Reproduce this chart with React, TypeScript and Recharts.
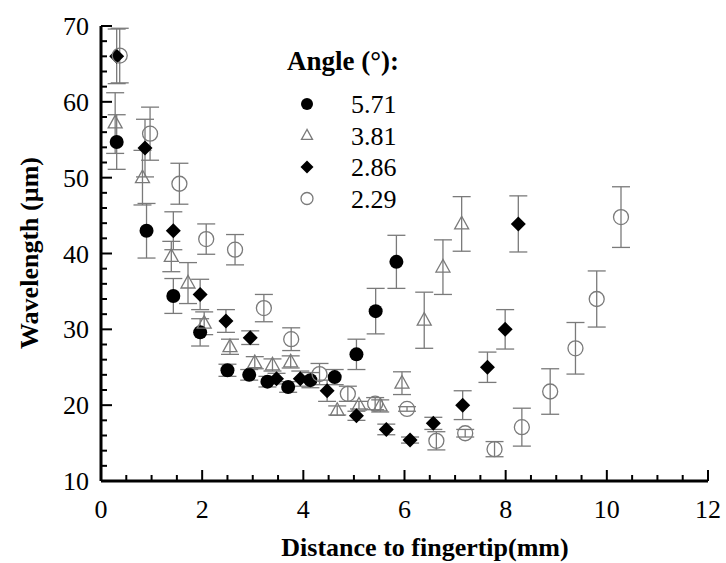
import React from 'react';
import { ScatterChart, Scatter, XAxis, YAxis, ErrorBar } from 'recharts';

// distance to fingertip (mm), wavelength (um), error (um)
const x571 = [0.31, 0.9, 1.43, 1.96, 2.5, 2.93, 3.29, 3.7, 4.14, 4.62, 5.05, 5.43, 5.84];
const y571 = [54.7, 43.0, 34.4, 29.6, 24.6, 24.0, 23.1, 22.4, 23.3, 23.7, 26.7, 32.4, 38.9];
const e571 = [3.6, 3.6, 2.3, 1.8, 0.8, 0.7, 0.7, 0.7, 1.0, 1.0, 2.0, 3.0, 3.5];

const x381 = [0.28, 0.82, 1.39, 1.72, 2.04, 2.55, 3.04, 3.39, 3.75, 4.67, 5.1, 5.52, 5.95, 6.39, 6.76, 7.13];
const y381 = [57.2, 50.0, 39.6, 36.1, 30.8, 27.7, 25.6, 25.3, 25.7, 19.3, 20.0, 19.9, 22.9, 31.2, 38.2, 43.9];
const e381 = [4.0, 3.6, 2.0, 2.7, 1.5, 1.0, 0.8, 0.8, 0.8, 0.6, 0.5, 0.8, 1.5, 3.7, 3.6, 3.6];

const x286 = [0.31, 0.87, 1.43, 1.96, 2.47, 2.95, 3.47, 3.94, 4.47, 5.05, 5.64, 6.11, 6.57, 7.15, 7.64, 7.99, 8.25];
const y286 = [66.0, 53.9, 43.0, 34.6, 31.1, 28.9, 23.5, 23.5, 21.9, 18.6, 16.8, 15.4, 17.6, 20.0, 25.0, 30.0, 43.9];
const e286 = [3.6, 3.8, 2.5, 2.0, 1.5, 0.9, 0.7, 1.0, 1.4, 0.6, 0.7, 0.4, 0.8, 1.9, 2.0, 2.6, 3.7];

const x229 = [0.37, 0.97, 1.55, 2.08, 2.65, 3.22, 3.76, 4.32, 4.88, 5.42, 6.05, 6.63, 7.2, 7.78, 8.32, 8.88, 9.38, 9.8, 10.28];
const y229 = [66.1, 55.8, 49.2, 41.9, 40.5, 32.8, 28.7, 24.1, 21.5, 20.2, 19.5, 15.3, 16.3, 14.2, 17.1, 21.8, 27.5, 34.0, 44.8];
const e229 = [3.6, 3.5, 2.7, 2.0, 2.0, 1.8, 1.5, 1.4, 1.0, 0.8, 0.3, 1.2, 0.5, 1.0, 2.5, 3.0, 3.4, 3.7, 4.0];

const xTicks = [0, 0.5, 1, 1.5, 2, 2.5, 3, 3.5, 4, 4.5, 5, 5.5, 6, 6.5, 7, 7.5, 8, 8.5, 9, 9.5, 10, 10.5, 11, 11.5, 12];
const yTicks = [10, 12, 14, 16, 18, 20, 22, 24, 26, 28, 30, 32, 34, 36, 38, 40, 42, 44, 46, 48, 50, 52, 54, 56, 58, 60, 62, 64, 66, 68, 70];
const angles = ['5.71', '3.81', '2.86', '2.29'];

const FONT = "'Liberation Serif', 'Times New Roman', Times, serif";
const GREY = '#7a7a7a';
const txt = { fontFamily: FONT };

const toRows = (xs: number[], ys: number[], es: number[]) =>
  xs.map((x, i) => ({ x, y: ys[i], err: es[i] }));

const isMajorX = (v: number) => Math.abs(v / 2 - Math.round(v / 2)) < 1e-6;
const isMajorY = (v: number) => v % 10 === 0;

const BottomTick = (props: any) => {
  const { x, y, payload } = props;
  const major = isMajorX(payload.value);
  return (
    <g>
      <line x1={x} y1={y} x2={x} y2={y - (major ? 11 : 6)} stroke="#000" strokeWidth={2} />
      {major && (
        <text x={x} y={y + 37} textAnchor="middle" style={txt} fontSize={26} fill="#000">
          {payload.value}
        </text>
      )}
    </g>
  );
};

const TopTick = (props: any) => {
  const { x, y, payload } = props;
  const major = isMajorX(payload.value);
  return <line x1={x} y1={y} x2={x} y2={y + (major ? 11 : 6)} stroke="#000" strokeWidth={2} />;
};

const LeftTick = (props: any) => {
  const { x, y, payload } = props;
  const major = isMajorY(payload.value);
  return (
    <g>
      <line x1={x} y1={y} x2={x + (major ? 11 : 6)} y2={y} stroke="#000" strokeWidth={2} />
      {major && (
        <text x={x - 12} y={y} dy="0.35em" textAnchor="end" style={txt} fontSize={26} fill="#000">
          {payload.value}
        </text>
      )}
    </g>
  );
};

const RightTick = (props: any) => {
  const { x, y, payload } = props;
  const major = isMajorY(payload.value);
  return <line x1={x} y1={y} x2={x - (major ? 11 : 6)} y2={y} stroke="#000" strokeWidth={2} />;
};

const dot = (cx: number, cy: number, r: number) => <circle cx={cx} cy={cy} r={r} fill="#000" />;
const tri = (cx: number, cy: number, s: number) => (
  <polygon
    points={`${cx},${cy - s * 1.1} ${cx - s},${cy + s * 0.7} ${cx + s},${cy + s * 0.7}`}
    fill="none"
    stroke={GREY}
    strokeWidth={1.3}
  />
);
const diamond = (cx: number, cy: number, s: number) => (
  <polygon points={`${cx},${cy - s} ${cx + s},${cy} ${cx},${cy + s} ${cx - s},${cy}`} fill="#000" />
);
const ring = (cx: number, cy: number, r: number) => (
  <circle cx={cx} cy={cy} r={r} fill="none" stroke={GREY} strokeWidth={1.3} />
);

const markers = [
  (cx: number, cy: number, big: boolean) => dot(cx, cy, big ? 7 : 6),
  (cx: number, cy: number, big: boolean) => tri(cx, cy, big ? 7 : 5.5),
  (cx: number, cy: number, big: boolean) => diamond(cx, cy, big ? 7.5 : 6.5),
  (cx: number, cy: number, big: boolean) => ring(cx, cy, big ? 7.5 : 6),
];

const series = [
  toRows(x571, y571, e571),
  toRows(x381, y381, e381),
  toRows(x286, y286, e286),
  toRows(x229, y229, e229),
];

export default function App() {
  return (
    <div style={{ position: 'absolute', left: 0, top: 0, width: 726, height: 563, background: '#fff' }}>
      <ScatterChart width={726} height={563} margin={{ top: 26, right: 18, bottom: 22, left: 21 }}>
        <XAxis
          dataKey="x"
          type="number"
          domain={[0, 12]}
          ticks={xTicks}
          interval={0}
          height={60}
          tickSize={0}
          tickMargin={0}
          tickLine={false}
          axisLine={{ stroke: '#000', strokeWidth: 3 }}
          tick={<BottomTick />}
          allowDataOverflow
        />
        <XAxis
          xAxisId="top"
          orientation="top"
          type="number"
          domain={[0, 12]}
          ticks={xTicks}
          interval={0}
          height={0}
          tickSize={0}
          tickMargin={0}
          tickLine={false}
          axisLine={{ stroke: '#000', strokeWidth: 3 }}
          tick={<TopTick />}
          allowDataOverflow
        />
        <YAxis
          dataKey="y"
          type="number"
          domain={[10, 70]}
          ticks={yTicks}
          interval={0}
          width={80}
          tickSize={0}
          tickMargin={0}
          tickLine={false}
          axisLine={{ stroke: '#000', strokeWidth: 3 }}
          tick={<LeftTick />}
          allowDataOverflow
        />
        <YAxis
          yAxisId="right"
          orientation="right"
          type="number"
          domain={[10, 70]}
          ticks={yTicks}
          interval={0}
          width={0}
          tickSize={0}
          tickMargin={0}
          tickLine={false}
          axisLine={{ stroke: '#000', strokeWidth: 3 }}
          tick={<RightTick />}
          allowDataOverflow
        />
        {series.map((rows, i) => (
          <Scatter
            key={angles[i]}
            name={angles[i]}
            data={rows}
            isAnimationActive={false}
            shape={(p: any) => markers[i](p.cx, p.cy, true)}
          >
            <ErrorBar dataKey="err" direction="y" width={9} stroke={GREY} strokeWidth={1.3} />
          </Scatter>
        ))}
      </ScatterChart>
      <svg
        width={726}
        height={563}
        style={{ position: 'absolute', left: 0, top: 0, pointerEvents: 'none' }}
      >
        <text x={287} y={70} style={txt} fontSize={27} fontWeight="bold" fill="#000">
          Angle (°):
        </text>
        {angles.map((a, i) => {
          const cy = 104 + i * 31.5;
          return (
            <g key={a}>
              {markers[i](307, cy, false)}
              <text x={351} y={cy} dy="0.35em" style={txt} fontSize={26} fill="#000">
                {a}
              </text>
            </g>
          );
        })}
        <text x={425} y={556} textAnchor="middle" style={txt} fontSize={26} fontWeight="bold" fill="#000">
          Distance to fingertip(mm)
        </text>
        <text
          transform="translate(38,253) rotate(-90)"
          textAnchor="middle"
          style={txt}
          fontSize={26}
          fontWeight="bold"
          fill="#000"
        >
          Wavelength (µm)
        </text>
      </svg>
    </div>
  );
}
